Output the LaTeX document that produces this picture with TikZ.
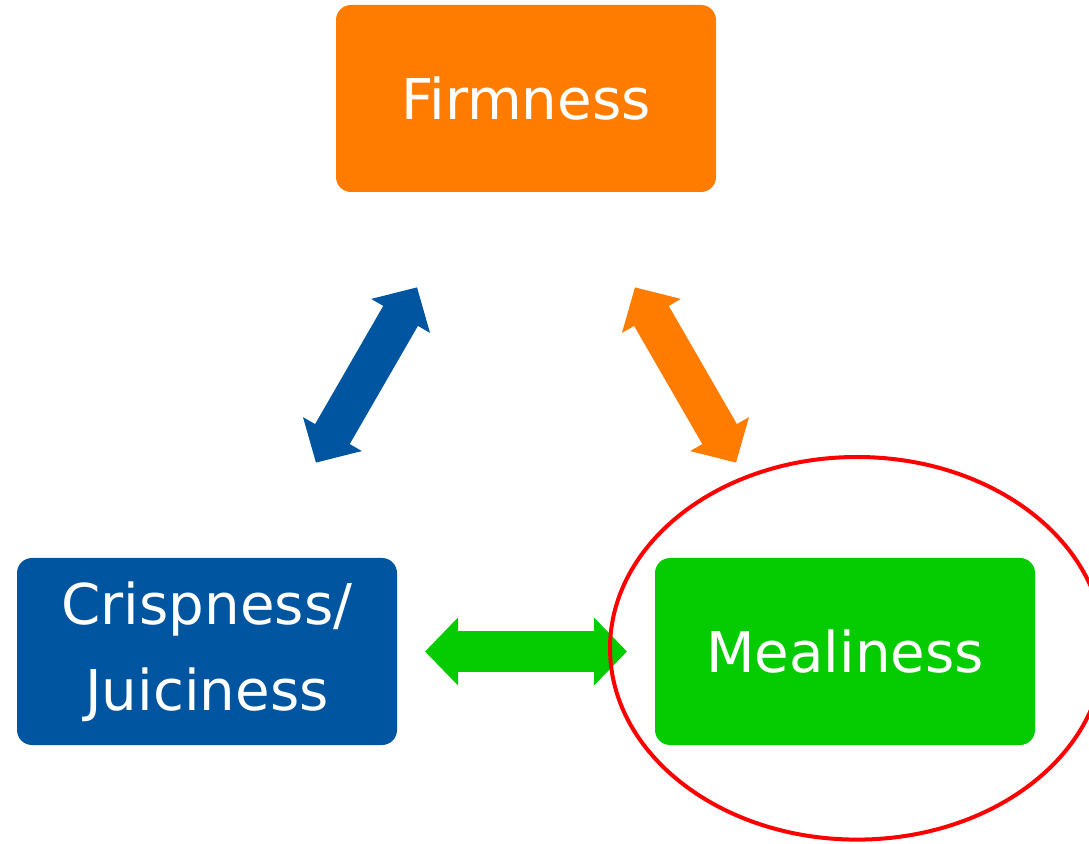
\documentclass[tikz,border=0pt]{standalone}
\usepackage{fontspec}
\setmainfont{DejaVu Sans}
\usetikzlibrary{arrows.meta}
\definecolor{firmorange}{HTML}{FF7C00}
\definecolor{crispblue}{HTML}{0055A0}
\definecolor{mealgreen}{HTML}{05CC00}

\begin{document}
\begin{tikzpicture}
	\useasboundingbox (0,0) rectangle (10.89,-8.44);
	\tikzstyle{every node}=[align=center, inner sep=0pt]
	\tikzset{
		attr/.style={rectangle, rounded corners=1.5mm, minimum width=3.8cm, minimum height=1.87cm,
			text=white, font=\fontsize{16}{24.4}\selectfont},
		fatarrow/.style={line width=4mm, {Triangle[length=3.3mm,width=6.6mm]}-{Triangle[length=3.3mm,width=6.6mm]},
			shorten <=2.18cm, shorten >=2.18cm}
	}
		\node[attr, fill=firmorange] (firm) at (5.26, -0.985) {Firmness};
		\node[attr, fill=crispblue] (crisp) at (2.07, -6.515) {Crispness/\\Juiciness};
		\node[attr, fill=mealgreen] (meal) at (8.45, -6.515) {Mealiness};

		\draw[fatarrow, crispblue]  (crisp.center) to (firm.center);
		\draw[fatarrow, firmorange] (meal.center) to (firm.center);
		\draw[fatarrow, mealgreen]  (crisp.center) to (meal.center);

		% highlight
		\draw[red, line width=0.4mm] (8.57, -6.483) ellipse [x radius=2.47, y radius=1.913];
\end{tikzpicture}
\end{document}
